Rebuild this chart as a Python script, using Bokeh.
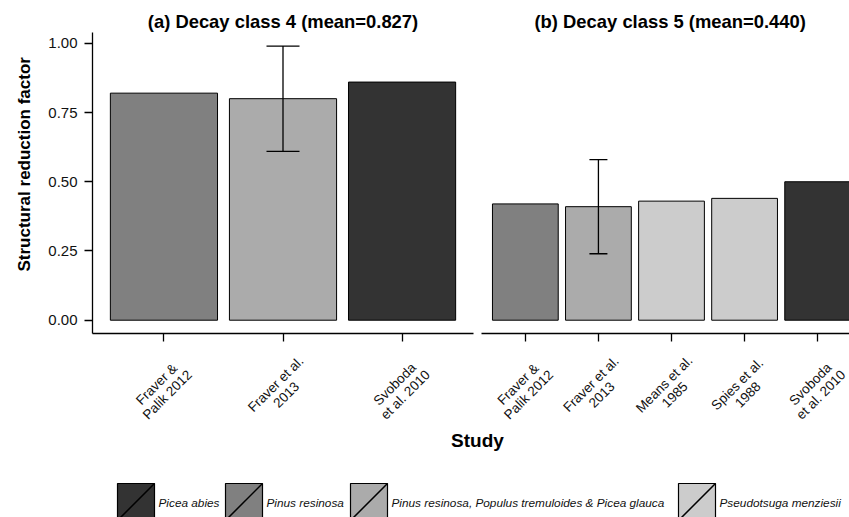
import math
import numpy as np
from bokeh.plotting import figure
from bokeh.layouts import column, row
from bokeh.models import (Range1d, FixedTicker, NumeralTickFormatter, ColumnDataSource,
                          Whisker, TeeHead, Title)
from bokeh.core.properties import value
from bokeh.embed import file_html
from bokeh.resources import INLINE

# ---------------- data ----------------
species = ["Picea abies", "Pinus resinosa",
           "Pinus resinosa, Populus tremuloides & Picea glauca",
           "Pseudotsuga menziesii"]
species_colors = ["#333333", "#808080", "#ABABAB", "#CCCCCC"]

studies_a = ["Fraver &\nPalik 2012", "Fraver et al.\n2013", "Svoboda\net al. 2010"]
values_a = [0.82, 0.80, 0.86]
species_a = ["Pinus resinosa", "Pinus resinosa, Populus tremuloides & Picea glauca", "Picea abies"]
err_study_a = ["Fraver et al.\n2013"]
err_lower_a = [0.61]
err_upper_a = [0.99]

studies_b = ["Fraver &\nPalik 2012", "Fraver et al.\n2013", "Means et al.\n1985",
             "Spies et al.\n1988", "Svoboda\net al. 2010"]
values_b = [0.42, 0.41, 0.43, 0.44, 0.50]
species_b = ["Pinus resinosa", "Pinus resinosa, Populus tremuloides & Picea glauca",
             "Pseudotsuga menziesii", "Pseudotsuga menziesii", "Picea abies"]
err_study_b = ["Fraver et al.\n2013"]
err_lower_b = [0.24]
err_upper_b = [0.58]

y_ticks = [0.0, 0.25, 0.5, 0.75, 1.0]

# ---------------- layout constants ----------------
FONT = "Liberation Sans"
TXT = "#111111"
Y0, Y1 = -0.048, 1.039
TOP, BOTTOM = 32, 19
PANEL_H = 352          # panels incl. titles and tick marks
LAB_H = 72             # strip holding the rotated study labels
PX_PER_UNIT_A = 381 / 3.2
PX_PER_UNIT_B = 380 / 5.2


def panel(studies, vals, sp, err_study, err_lo, err_hi, title, width,
          border_left, border_right, px_per_unit, show_y, cap, title_offset):
    n = len(studies)
    xs = list(range(n))
    frame_w = width - border_left - border_right
    x_end = -0.6 + frame_w / px_per_unit
    p = figure(width=width, height=PANEL_H,
               x_range=Range1d(-0.6, x_end), y_range=Range1d(Y0, Y1),
               output_backend="svg", toolbar_location=None,
               min_border_left=border_left, min_border_right=border_right,
               min_border_top=TOP, min_border_bottom=BOTTOM)
    p.grid.visible = False
    p.outline_line_color = None
    p.background_fill_color = "white"

    p.title.text = title
    if title_offset is None:
        p.title.align = "center"
    else:
        p.title.align = "left"
        p.title.offset = title_offset
    p.title.text_font = FONT
    p.title.text_font_style = "bold"
    p.title.text_font_size = "18.4px"
    p.title.text_color = "black"
    p.title.standoff = 2

    src = ColumnDataSource(dict(x=xs, top=vals,
                                color=[species_colors[species.index(s)] for s in sp]))
    p.vbar(x="x", top="top", bottom=0, width=0.9, source=src,
           fill_color="color", line_color="black", line_width=1)

    esrc = ColumnDataSource(dict(base=[studies.index(s) for s in err_study],
                                 lower=err_lo, upper=err_hi))
    w = Whisker(source=esrc, base="base", lower="lower", upper="upper",
                dimension="height", line_color="black", line_width=1.3,
                upper_head=TeeHead(size=cap, line_color="black", line_width=1.3),
                lower_head=TeeHead(size=cap, line_color="black", line_width=1.3),
                level="overlay")
    p.add_layout(w)

    # x axis: line and tick marks only (labels drawn in the strip below)
    xa = p.xaxis[0]
    xa.ticker = FixedTicker(ticks=xs)
    xa.major_label_overrides = {i: "" for i in xs}
    xa.major_label_text_font_size = "0px"
    xa.major_label_standoff = 0
    xa.major_tick_out = 8
    xa.major_tick_in = 0
    xa.minor_tick_line_color = None
    xa.axis_line_width = 1.3
    xa.major_tick_line_width = 1.3

    ya = p.yaxis[0]
    if show_y:
        ya.ticker = FixedTicker(ticks=y_ticks)
        ya.formatter = NumeralTickFormatter(format="0.00")
        ya.major_label_text_font = FONT
        ya.major_label_text_font_size = "15px"
        ya.major_label_text_color = TXT
        ya.major_tick_out = 8
        ya.major_tick_in = 0
        ya.minor_tick_line_color = None
        ya.axis_line_width = 1.3
        ya.major_tick_line_width = 1.3
        ya.major_label_standoff = 7
    else:
        ya.visible = False

    # label strip sharing the panel's x scale
    q = figure(width=width, height=LAB_H, x_range=p.x_range, y_range=Range1d(LAB_H, 0),
               output_backend="svg", toolbar_location=None,
               x_axis_type=None, y_axis_type=None,
               min_border_left=border_left, min_border_right=border_right,
               min_border_top=0, min_border_bottom=0)
    q.grid.visible = False
    q.outline_line_color = None
    q.text(x=xs, y=[37] * n, text=studies, angle=math.pi / 4,
           text_align="center", text_baseline="middle", x_offset=-2,
           text_font=value(FONT), text_font_size="13.5px", text_color=TXT,
           text_line_height=1.0)
    return p, q


title_a = f"(a) Decay class 4 (mean={np.mean(values_a):.3f})"
title_b = f"(b) Decay class 5 (mean={np.mean(values_b):.3f})"

p1, q1 = panel(studies_a, values_a, species_a, err_study_a, err_lower_a, err_upper_a,
               title_a, 477, 92, 4, PX_PER_UNIT_A, True, 33, None)
p2, q2 = panel(studies_b, values_b, species_b, err_study_b, err_lower_b, err_upper_b,
               title_b, 372, 4, 0, PX_PER_UNIT_B, False, 18, 53)

ytitle = Title(text="Structural reduction factor", align="left", offset=62,
               text_font=FONT, text_font_style="bold", text_font_size="17px",
               text_color="black", standoff=23)
p1.add_layout(ytitle, "left")

# ---------------- bottom: x title + legend ----------------
W3, H3 = 849, 93
p3 = figure(width=W3, height=H3, x_range=Range1d(0, W3), y_range=Range1d(H3, 0),
            output_backend="svg", toolbar_location=None,
            x_axis_type=None, y_axis_type=None, min_border=0)
p3.grid.visible = False
p3.outline_line_color = None

p3.text(x=[477], y=[16], text=["Study"], text_align="center", text_baseline="middle",
        text_font=value(FONT), text_font_style="bold", text_font_size="19px",
        text_color="black")

key_left = [117, 225, 350, 678]
key_w = 37
key_top, key_bottom = 59, 96
p3.quad(left=key_left, right=[k + key_w for k in key_left],
        top=key_top, bottom=key_bottom, fill_color=species_colors,
        line_color="black", line_width=1.2)
p3.segment(x0=key_left, y0=key_bottom, x1=[k + key_w for k in key_left], y1=key_top,
           line_color="black", line_width=1.5)
p3.text(x=[k + key_w + 4 for k in key_left], y=78, text=species,
        text_align="left", text_baseline="middle",
        text_font=value(FONT), text_font_style="italic", text_font_size="11.8px",
        text_color=TXT)

layout = column(row(p1, p2), row(q1, q2), p3)
open("out.html", "w").write(file_html(layout, INLINE))
